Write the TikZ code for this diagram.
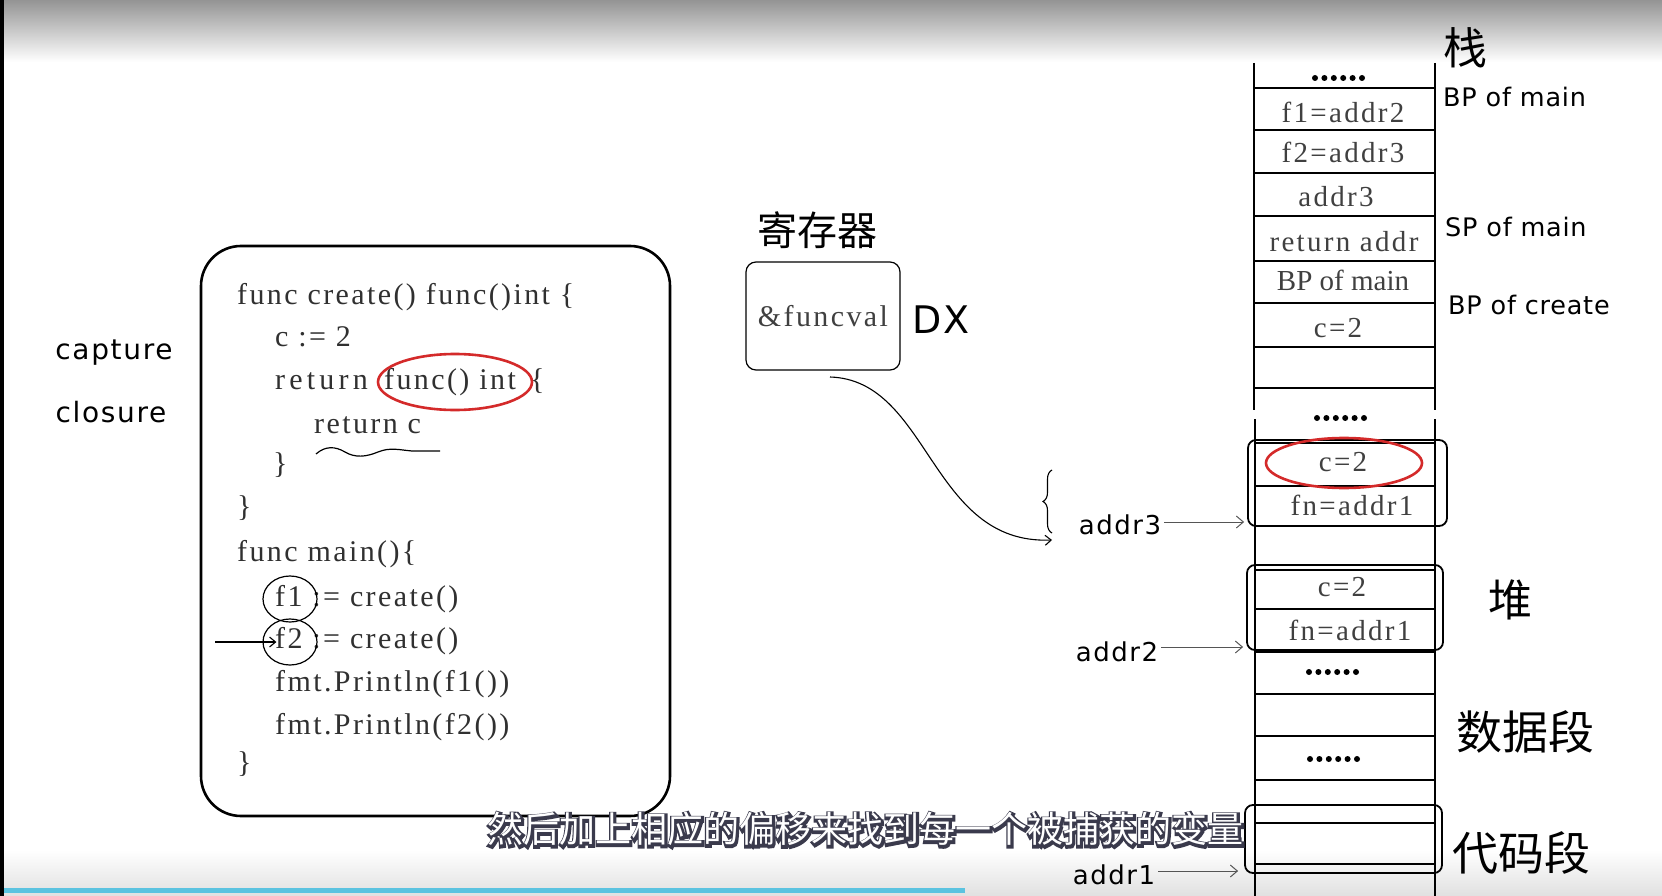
\documentclass[tikz,border=0pt]{standalone}
\usepackage{fontspec}
\setmainfont{Liberation Serif}
\newfontfamily\cjk{Noto Sans CJK SC}
\newfontfamily\cjkout[FakeBold=12]{Noto Sans CJK SC}
\newfontfamily\hand[LetterSpace=6]{DejaVu Sans}
\newfontfamily\handr[LetterSpace=3]{DejaVu Sans}
\newfontfamily\codef[LetterSpace=8]{Liberation Serif}
\usetikzlibrary{arrows.meta,decorations.pathreplacing,shapes.geometric}
\definecolor{inkgray}{HTML}{303030}
\definecolor{cellgray}{HTML}{404040}
\definecolor{arrgray}{HTML}{555555}
\definecolor{redink}{HTML}{D42A2A}
\definecolor{barblue}{HTML}{5BC3E0}
\definecolor{subdark}{HTML}{3A3A4C}
\tikzset{
  codeline/.style={anchor=west, inner sep=0pt, text=inkgray, font=\codef\fontsize{30}{36}\selectfont, text height=21pt, text depth=6pt},
  celltext/.style={inner sep=0pt, text=cellgray, font=\codef\fontsize{29}{34}\selectfont},
  handlbl/.style={inner sep=2pt, text=black, font=\handr\fontsize{25.5}{30}\selectfont},
  addrlbl/.style={inner sep=3pt, text=black, font=\hand\fontsize{26}{30}\selectfont},
  cjklbl/.style={inner sep=0pt, text=black, font=\cjk\fontsize{44}{48}\selectfont},
  stackline/.style={line width=2pt, black},
  heapbox/.style={draw, line width=1.8pt, rounded corners=8pt, inner sep=0pt},
  addrarrow/.style={arrgray, line width=1pt, -{Straight Barb[length=7pt,width=12pt]}},
  redring/.style={draw=redink, line width=2.6pt, ellipse, inner sep=0pt},
  blackring/.style={draw=black, line width=1.2pt, ellipse, inner sep=0pt},
  subtxt/.style={inner sep=0pt, font=\cjk\fontsize{36}{40}\selectfont},
}
\begin{document}
\begin{tikzpicture}[x=1pt,y=-1pt]
\useasboundingbox (0,0) rectangle (1662,896);
\fill[white] (0,0) rectangle (1662,896);
% video frame decorations
\shade[top color=black!42, bottom color=white] (0,0) rectangle (1662,62);
\shade[top color=white, bottom color=black!12] (0,850) rectangle (1662,896);
\fill[barblue] (0,888) rectangle (965,893);
\fill[black] (0,0) rectangle (4,896);

% capture closure
\node[inner sep=2pt, font=\hand\fontsize{28}{32}\selectfont] (capt) at (114,353) {capture};
\node[inner sep=2pt, font=\hand\fontsize{28}{32}\selectfont] (clos) at (111,412) {closure};

% code box
\node[draw, line width=2.6pt, rounded corners=40pt, minimum width=469pt, minimum height=570pt, inner sep=0pt] (codebox) at (435.5,531) {};
\node[codeline] (l1) at (237,297) {func create() func()int \{};
\node[codeline] (l2) at (275,339) {c := 2};
\node[codeline, font=\codef\fontsize{30}{36}\selectfont\addfontfeature{LetterSpace=14}] (l3a) at (275,382) {return};
\node[codeline] (l3b) at (384,382) {func() int};
\node[codeline] (l3c) at (530,382) {\{};
\node[codeline] (l4) at (314,426) {return c};
\node[codeline] (l5) at (273,466) {\}};
\node[codeline] (l6) at (237,509) {\}};
\node[codeline] (l7) at (237,554) {func main()\{};
\node[codeline] (l8) at (275,599) {f1 := create()};
\node[codeline] (l9) at (275,641) {f2 := create()};
\node[codeline] (l10) at (275,684) {fmt.Println(f1())};
\node[codeline] (l11) at (275,727) {fmt.Println(f2())};
\node[codeline] (l12) at (237,765) {\}};

\node[redring, minimum width=154pt, minimum height=56pt] (ringfunc) at (455,382) {};
\draw[line width=1.2pt] (316,454) .. controls (325,446) and (335,446) .. (345,452)
  .. controls (355,458) and (366,457) .. (378,452) .. controls (390,447) and (400,450) .. (412,451) -- (440,451);
\node[blackring, minimum width=54pt, minimum height=46pt] (ringf1) at (290,599) {};
\node[blackring, minimum width=54pt, minimum height=46pt] (ringf2) at (290,642) {};
\coordinate (f2src) at (215,642);
\draw[line width=1.1pt, -{Straight Barb[length=6pt,width=10pt]}] (f2src) -- ([xshift=14pt]ringf2.west);

% register
\node[cjklbl, font=\cjk\fontsize{40}{44}\selectfont] (reg) at (817,230) {寄存器};
\node[draw, line width=1.2pt, rounded corners=10pt, minimum width=154pt, minimum height=108pt, inner sep=0pt, text=cellgray, font=\codef\fontsize{30}{36}\selectfont] (fv) at (823,316) {\&funcval};
\node[inner sep=0pt, font=\hand\fontsize{38}{42}\selectfont] (dx) at (941,320) {DX};
\coordinate (curS) at (830,377);
\coordinate (curE) at (1052,540);
\draw[line width=1.1pt, -{Straight Barb[length=6pt,width=10pt]}] (curS) .. controls (930,380) and (930,545) .. (curE);
\draw[line width=1.1pt, decorate, decoration={brace, amplitude=9pt}] (1052,533) -- (1052,470);

% stack
\draw[stackline] (1254,63) -- (1254,410);
\draw[stackline] (1435,63) -- (1435,410);
\draw[stackline] (1255,419) -- (1255,896);
\draw[stackline] (1435,419) -- (1435,896);
\foreach \yy in {88,130,173,216,261,303,347,388,443,486,526,570,609,652,694,736,780,823,864}
  \draw[stackline] (1254,\yy) -- (1435,\yy);
\foreach \cx/\cy in {1315/78, 1317/418, 1309/672, 1310/759}
  \foreach \i in {0,...,5}
    \fill (\cx+\i*9.4,\cy) circle (3pt);

\node[celltext] (s1) at (1343,112) {f1=addr2};
\node[celltext] (s2) at (1343,152) {f2=addr3};
\node[celltext] (s3) at (1336,197) {addr3};
\node[celltext] (s4) at (1344,242) {return addr};
\node[celltext, font=\rmfamily\fontsize{29}{34}\selectfont] (s5) at (1343,280) {BP of main};
\node[celltext] (s6) at (1338,328) {c=2};

% heap
\node[heapbox, minimum width=199pt, minimum height=86pt] (hb1) at (1347.5,483) {};
\node[heapbox, minimum width=196pt, minimum height=85pt] (hb2) at (1345,607.5) {};
\node[heapbox, minimum width=197pt, minimum height=68pt] (hb3) at (1343.5,839) {};
\node[celltext] (h1) at (1343,462) {c=2};
\node[celltext] (h2) at (1352,505) {fn=addr1};
\node[celltext] (h3) at (1342,587) {c=2};
\node[celltext] (h4) at (1350,630) {fn=addr1};
\node[redring, minimum width=156pt, minimum height=50pt] (ringc) at (1344,463) {};

% right labels
\node[cjklbl] (zhan) at (1465,48) {栈};
\node[handlbl, anchor=west] (bpm) at (1441,97) {BP of main};
\node[handlbl, anchor=west] (spm) at (1443,227) {SP of main};
\node[handlbl, anchor=west] (bpc) at (1446,305) {BP of create};
\node[cjklbl] (dui) at (1510,600) {堆};
\node[cjklbl, font=\cjk\fontsize{46}{50}\selectfont] (data) at (1525,732) {数据段};
\node[cjklbl, font=\cjk\fontsize{46}{50}\selectfont] (text) at (1521,853) {代码段};

% addresses
\node[addrlbl] (a3) at (1120,525) {addr3};
\node[addrlbl] (a2) at (1117,652) {addr2};
\node[addrlbl] (a1) at (1114,875) {addr1};
\draw[addrarrow] ([yshift=3pt]a3.east) -- ([yshift=3pt,xshift=-3pt]a3.east -| hb1.west);
\draw[addrarrow] ([yshift=5pt]a2.east) -- ([yshift=5pt,xshift=-3pt]a2.east -| hb2.west);
\draw[addrarrow] ([yshift=4pt]a1.east) -- ([yshift=4pt,xshift=-6pt]a1.east -| hb3.west);

% subtitle: dark emboldened outline layer, white text on top
\node[subtxt, font=\cjkout\fontsize{36}{40}\selectfont, text=subdark] (subo) at (866,830) {然后加上相应的偏移来找到每一个被捕获的变量};
\node[subtxt, text=white] (sub) at (865,829) {然后加上相应的偏移来找到每一个被捕获的变量};
\end{tikzpicture}
\end{document}
